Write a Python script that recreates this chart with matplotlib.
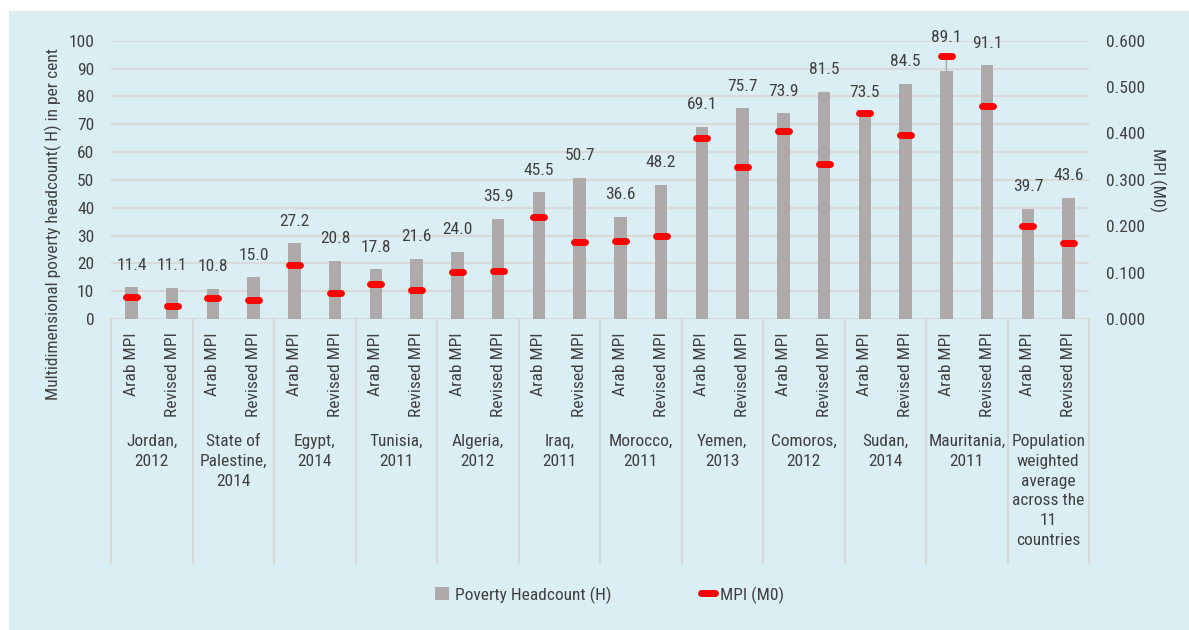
import numpy as np
import matplotlib
matplotlib.use("Agg")
import matplotlib.pyplot as plt
import matplotlib.transforms as mtransforms
from matplotlib.patches import Patch, Rectangle
from matplotlib.lines import Line2D

plt.rcParams['font.family'] = ['Roboto Condensed', 'Liberation Sans Narrow', 'DejaVu Sans']
plt.rcParams['font.stretch'] = 'condensed'

countries = ["Jordan,\n2012", "State of\nPalestine,\n2014", "Egypt,\n2014", "Tunisia,\n2011",
             "Algeria,\n2012", "Iraq,\n2011", "Morocco,\n2011", "Yemen,\n2013",
             "Comoros,\n2012", "Sudan,\n2014", "Mauritania,\n2011",
             "Population\nweighted\naverage\nacross the\n11\ncountries"]
methods = ["Arab MPI", "Revised MPI"]

headcount_arab = [11.4, 10.8, 27.2, 17.8, 24.0, 45.5, 36.6, 69.1, 73.9, 73.5, 89.1, 39.7]
headcount_revised = [11.1, 15.0, 20.8, 21.6, 35.9, 50.7, 48.2, 75.7, 81.5, 84.5, 91.1, 43.6]
mpi_arab = [0.048, 0.046, 0.116, 0.075, 0.101, 0.220, 0.168, 0.390, 0.405, 0.445, 0.568, 0.201]
mpi_revised = [0.028, 0.042, 0.056, 0.062, 0.103, 0.166, 0.179, 0.328, 0.335, 0.396, 0.459, 0.164]

bar_color = '#AEAAAA'
red = '#FF0000'
bg = '#DAEEF3'
grid_c = '#D9D9D9'
txt = '#404040'
fs = 12.5

W, H = 1189, 630
fig = plt.figure(figsize=(W / 100, H / 100), dpi=100, facecolor='white')
fig.patches.append(Rectangle((9 / W, 0), 1 - 9 / W, 1 - 11 / H, transform=fig.transFigure,
                             facecolor=bg, edgecolor='none', zorder=-10))

x0, x1, ytop, ybot = 111, 1089, 40.7, 319
ax = fig.add_axes([x0 / W, 1 - ybot / H, (x1 - x0) / W, (ybot - ytop) / H])
ax.set_facecolor('none')
ax2 = ax.twinx()
ax2.set_facecolor('none')

n = len(countries)
xa = np.arange(n) + 0.25
xr = np.arange(n) + 0.75
xs = np.concatenate([xa, xr])
hs = np.concatenate([headcount_arab, headcount_revised])
ms = np.concatenate([mpi_arab, mpi_revised])

ax.bar(xs, hs, width=0.156, color=bar_color, zorder=2)
ax.set_xlim(0, n)
ax.set_ylim(0, 100)
ax.set_yticks(np.arange(0, 101, 10))
ax.yaxis.grid(True, color=grid_c, lw=1.5, zorder=0)
ax.set_axisbelow(True)
ax.set_xticks([])
ax.tick_params(axis='y', length=0, pad=12, labelsize=fs, labelcolor=txt)
for s in ax.spines.values():
    s.set_visible(False)

ax2.set_ylim(0, 0.6)
ax2.set_yticks(np.arange(0, 0.61, 0.1))
ax2.set_yticklabels(['%.3f' % v for v in np.arange(0, 0.61, 0.1)])
ax2.tick_params(axis='y', length=0, pad=12, labelsize=fs, labelcolor=txt)
for s in ax2.spines.values():
    s.set_visible(False)
ax2.hlines(ms, xs - 0.068, xs + 0.068, colors=red, lw=5, capstyle='round', zorder=5)

# data labels
for x, h in zip(xs, hs):
    if h == 89.1:
        ax.annotate('%.1f' % h, xy=(x, h), xytext=(0, 24), textcoords='offset points',
                    ha='center', va='center', fontsize=fs, color=txt,
                    arrowprops=dict(arrowstyle='-', color='#A6A6A6', lw=1, shrinkA=7, shrinkB=0))
    else:
        ax.annotate('%.1f' % h, xy=(x, h), xytext=(0, 16), textcoords='offset points',
                    ha='center', va='center', fontsize=fs, color=txt)

# category axis
ah = ybot - ytop
def ay(py):
    return -(py - ybot) / ah

trans = mtransforms.blended_transform_factory(ax.transData, ax.transAxes)
for i in range(n + 1):
    ax.add_line(Line2D([i, i], [0, ay(563)], transform=trans, color=grid_c, lw=1.5,
                       clip_on=False))
for i in range(n):
    for x, m in zip([i + 0.25, i + 0.75], methods):
        ax.text(x, ay(332), m, transform=trans, rotation=90, ha='center', va='top',
                fontsize=fs, color=txt)
    ax.text(i + 0.5, ay(434), countries[i], transform=trans, ha='center', va='top',
            fontsize=fs, color=txt, linespacing=1.4)

fig.text(53 / W, 1 - 224 / H, 'Multidimensional poverty headcount( H) in per cent',
         rotation=90, ha='center', va='center', fontsize=fs, color=txt)
fig.text(1158 / W, 1 - 180 / H, 'MPI (M0)', rotation=270, ha='center', va='center',
         fontsize=fs, color=txt)

handles = [Patch(facecolor=bar_color, edgecolor='none'),
           Line2D([0], [0], color=red, lw=5, solid_capstyle='round')]
fig.legend(handles, ['Poverty Headcount (H)', 'MPI (M0)'], loc='center',
           bbox_to_anchor=(610 / W, 1 - 595 / H), ncol=2, frameon=False, fontsize=fs,
           labelcolor=txt, handlelength=0.8, handleheight=0.8, handletextpad=0.3,
           columnspacing=5.2)

fig.savefig('out.png', dpi=100, facecolor=fig.get_facecolor())
